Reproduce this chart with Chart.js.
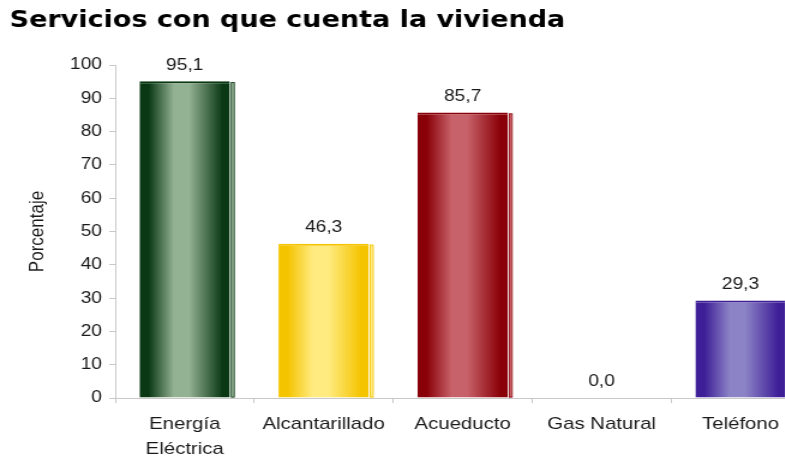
<!DOCTYPE html>
<html>
<head>
<meta charset="utf-8">
<script src="https://cdn.jsdelivr.net/npm/chart.js@4/dist/chart.umd.min.js"></script>
<style>
  html, body { margin: 0; padding: 0; background: #fff; overflow: hidden; }
  /* el original aparece estirado en horizontal */
  #wrap { width: 692px; height: 459px; transform: scaleX(1.2); transform-origin: 0 0; }
</style>
</head>
<body>
<div id="wrap"><canvas id="chartServicios"></canvas></div>
<script>
/* Servicios con que cuenta la vivienda */
const categorias = [['Energía', 'Eléctrica'], 'Alcantarillado', 'Acueducto', 'Gas Natural', 'Teléfono'];
const porcentajes = [95.1, 46.3, 85.7, 0.0, 29.3];
const ticksY = [0, 10, 20, 30, 40, 50, 60, 70, 80, 90, 100];

// colores: borde oscuro, centro claro
const coloresOscuros = ['#0a3815', '#f5c400', '#8a0008', '#3e1f98'];
const coloresClaros = ['#93b193', '#ffeb80', '#c8626a', '#8c83c6'];
const colorBarra = [0, 1, 2, 2, 3];

const textoFont = 'Liberation Sans, Arial, sans-serif';
const anchoBarra = 0.65;

const gradienteBarra = (ctx) => {
  const chart = ctx.chart;
  const i = colorBarra[ctx.dataIndex];
  const x = chart.scales.x;
  if (!chart.chartArea || !x) return coloresOscuros[i];
  const centro = x.getPixelForValue(ctx.dataIndex);
  const ancho = (x.width / categorias.length) * anchoBarra;
  const g = chart.ctx.createLinearGradient(centro - ancho / 2, 0, centro + ancho / 2, 0);
  g.addColorStop(0, coloresOscuros[i]);
  g.addColorStop(0.1, coloresOscuros[i]);
  g.addColorStop(0.38, coloresClaros[i]);
  g.addColorStop(0.55, coloresClaros[i]);
  g.addColorStop(0.92, coloresOscuros[i]);
  g.addColorStop(1, coloresOscuros[i]);
  return g;
};

// franja lateral (efecto 3D) y etiquetas de valor
const decoracion = {
  id: 'decoracion',
  afterDatasetsDraw(chart) {
    const c = chart.ctx;
    const meta = chart.getDatasetMeta(0);
    meta.data.forEach((bar, i) => {
      const v = porcentajes[i];
      const k = colorBarra[i];
      if (v > 0) {
        const der = bar.x + bar.width / 2;
        c.save();
        c.fillStyle = coloresClaros[k];
        c.fillRect(der + 1, bar.y + 1, 2.5, bar.base - bar.y - 1);
        c.strokeStyle = coloresOscuros[k];
        c.lineWidth = 0.8;
        c.strokeRect(der + 1.2, bar.y + 1.2, 2.5, bar.base - bar.y - 1.6);
        c.restore();
      }
      c.save();
      c.fillStyle = '#1a1a1a';
      c.font = '16px ' + textoFont;
      c.textAlign = 'center';
      c.textBaseline = 'bottom';
      c.fillText(v.toFixed(1).replace('.', ','), bar.x, bar.y - 8);
      c.restore();
    });
  },
};

const ctx = document.getElementById('chartServicios').getContext('2d');
const chartServicios = new Chart(ctx, {
  type: 'bar',
  data: {
    labels: categorias,
    datasets: [
      {
        data: porcentajes,
        backgroundColor: gradienteBarra,
        borderColor: (c) => coloresOscuros[colorBarra[c.dataIndex]],
        borderWidth: { top: 2, left: 0, right: 0, bottom: 0 },
        barPercentage: anchoBarra,
        categoryPercentage: 1,
      },
    ],
  },
  options: {
    responsive: true,
    maintainAspectRatio: false,
    animation: false,
    layout: { padding: { left: 8, right: 17, top: 0, bottom: 0 } },
    scales: {
      x: {
        afterFit: (s) => { s.height = 61; },
        grid: { drawOnChartArea: false, color: '#c8c8c8', tickLength: 5 },
        border: { color: '#c8c8c8' },
        ticks: {
          color: '#1a1a1a',
          font: { family: textoFont, size: 17, lineHeight: 1.45 },
          padding: 9,
          maxRotation: 0,
        },
      },
      y: {
        min: 0,
        max: 100,
        afterBuildTicks: (s) => { s.ticks = ticksY.map((v) => ({ value: v })); },
        afterFit: (s) => { s.width = 88; },
        grid: { drawOnChartArea: false, color: '#c8c8c8', tickLength: 5 },
        border: { color: '#c8c8c8' },
        ticks: { color: '#1a1a1a', font: { family: textoFont, size: 16 }, padding: 6 },
        title: {
          display: true,
          text: 'Porcentaje',
          color: '#1a1a1a',
          font: { family: textoFont, size: 17 },
          padding: { top: 13, bottom: 0 },
        },
      },
    },
    plugins: {
      legend: { display: false },
      tooltip: { enabled: false },
      title: {
        display: true,
        text: 'Servicios con que cuenta la vivienda',
        align: 'start',
        color: '#000',
        font: { family: 'DejaVu Sans, Verdana, sans-serif', size: 22.5, weight: 'bold' },
        padding: { top: 8, bottom: 30 },
      },
    },
  },
  plugins: [decoracion],
});
</script>
</body>
</html>
